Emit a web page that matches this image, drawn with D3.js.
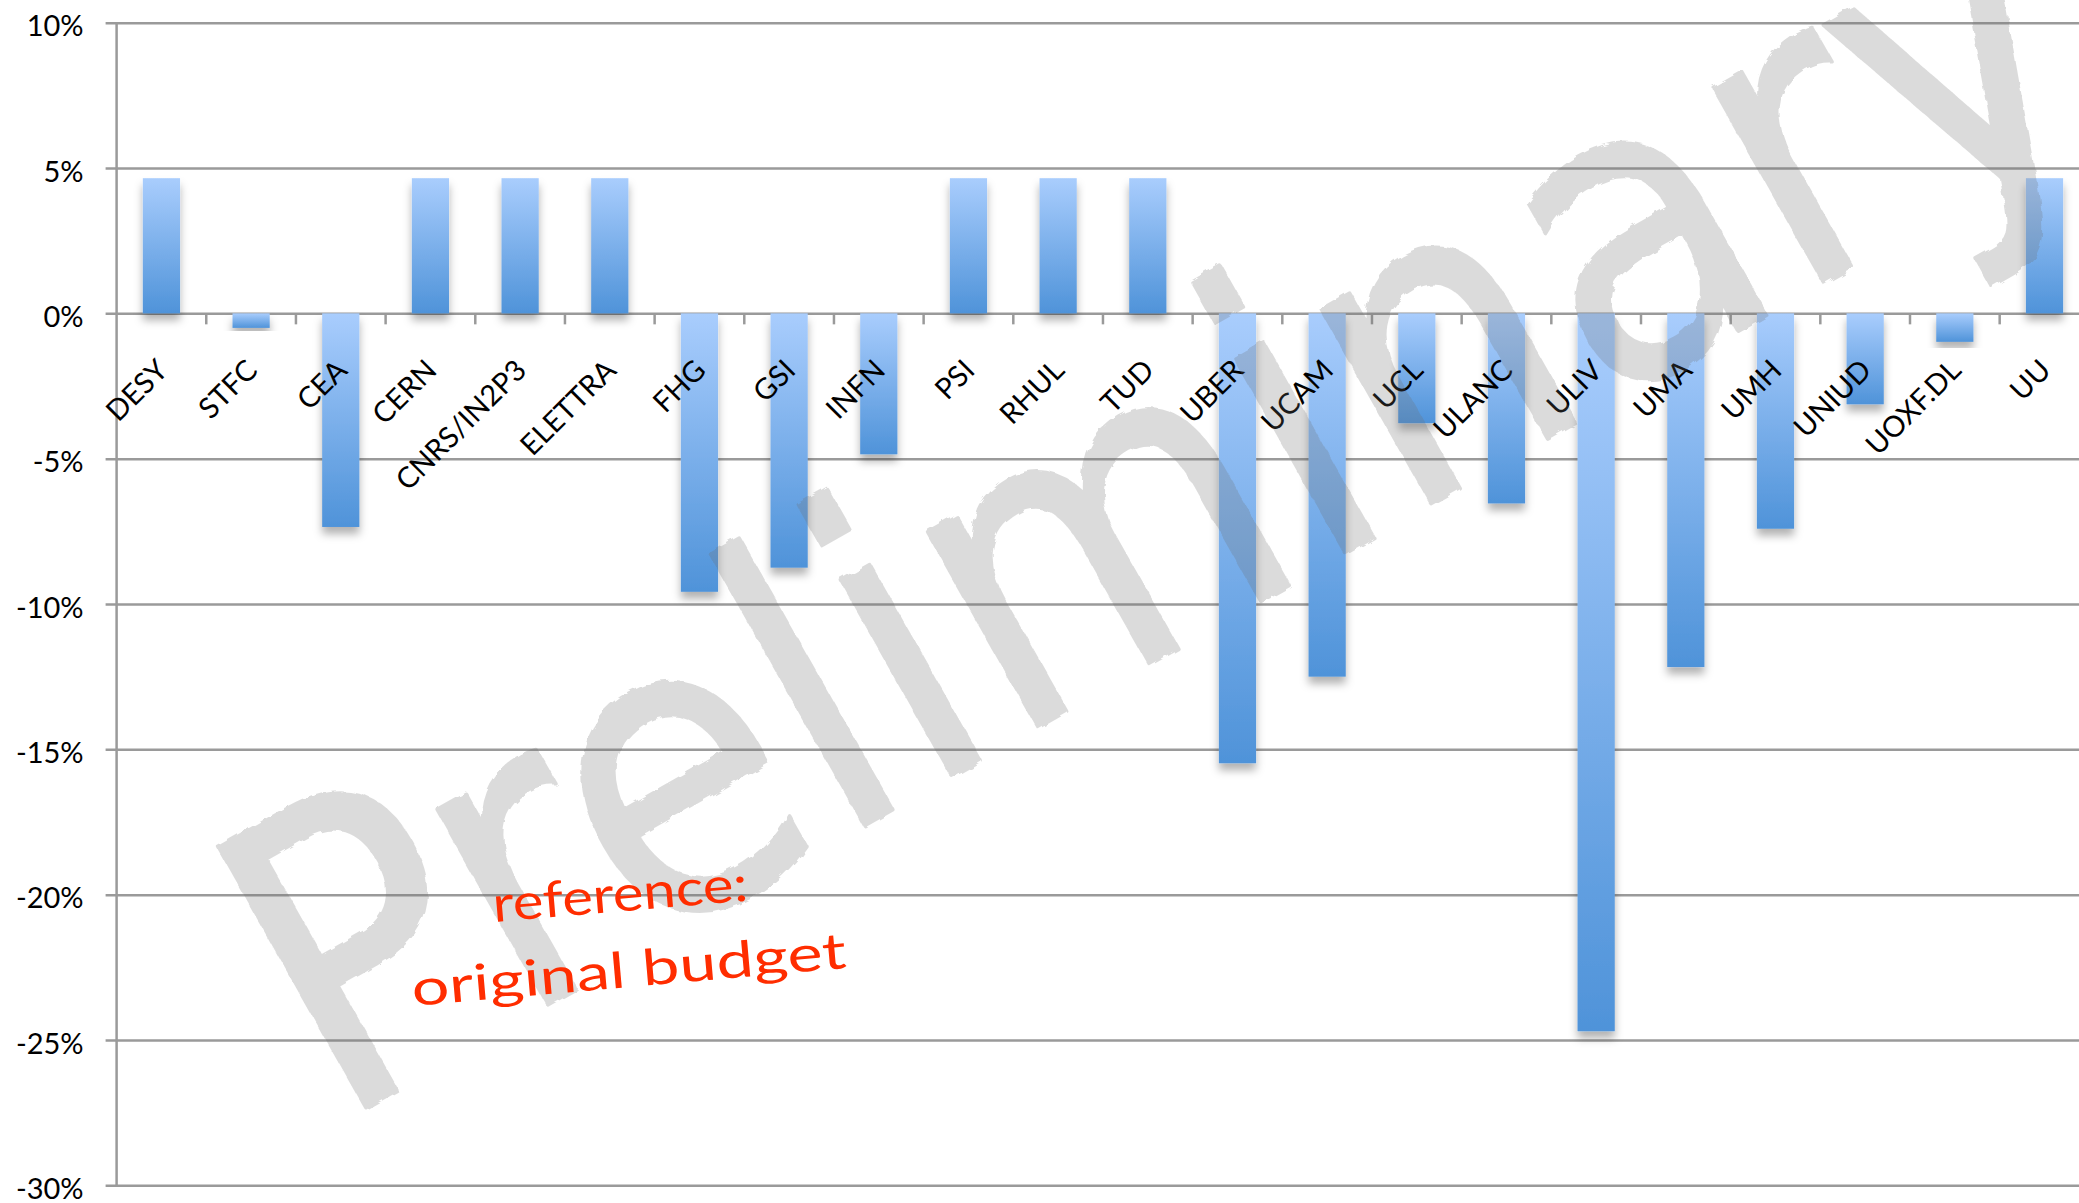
<!DOCTYPE html>
<html lang="en">
<head>
    <meta charset="UTF-8">
    <title>Budget deviation</title>
    <script src="https://d3js.org/d3.v7.min.js"></script>
    <style>
        body { margin: 0; background: #fff; }
        text { font-family: Lato, "Open Sans", sans-serif; }
    </style>
</head>
<body>
    <script>
        // deviation from original budget, in %
        var categories = ["DESY", "STFC", "CEA", "CERN", "CNRS/IN2P3", "ELETTRA", "FHG", "GSI", "INFN", "PSI", "RHUL",
            "TUD", "UBER", "UCAM", "UCL", "ULANC", "ULIV", "UMA", "UMH", "UNIUD", "UOXF.DL", "UU"];
        var values = [4.65, -0.5, -7.35, 4.65, 4.65, 4.65, -9.58, -8.75, -4.85, 4.65, 4.65,
            4.65, -15.48, -12.5, -3.78, -6.54, -24.7, -12.17, -7.41, -3.13, -0.98, 4.65];
        var yTicks = [10, 5, 0, -5, -10, -15, -20, -25, -30];
        var yTickLabels = ["10%", "5%", "0%", "-5%", "-10%", "-15%", "-20%", "-25%", "-30%"];

        var width = 2079, height = 1203;
        var left = 116.6, step = 89.67;
        var right = left + categories.length * step;

        var svg = d3.select("body")
            .append("svg")
            .attr("width", width)
            .attr("height", height);

        var defs = svg.append("defs");
        var grad = defs.append("linearGradient")
            .attr("id", "barGrad")
            .attr("x1", 0).attr("y1", 0).attr("x2", 0).attr("y2", 1);
        grad.append("stop").attr("offset", "0%").attr("stop-color", "#a9cdfd");
        grad.append("stop").attr("offset", "100%").attr("stop-color", "#4f93d9");

        var shadow = defs.append("filter")
            .attr("id", "shadow")
            .attr("x", "-50%").attr("y", "-20%").attr("width", "200%").attr("height", "140%");
        shadow.append("feDropShadow")
            .attr("dx", 0).attr("dy", 7)
            .attr("stdDeviation", 4)
            .attr("flood-color", "#000")
            .attr("flood-opacity", 0.3);

        var rough = defs.append("filter")
            .attr("id", "rough")
            .attr("x", "-10%").attr("y", "-10%").attr("width", "120%").attr("height", "120%");
        rough.append("feTurbulence")
            .attr("type", "fractalNoise")
            .attr("baseFrequency", 0.08)
            .attr("numOctaves", 2)
            .attr("result", "noise");
        rough.append("feDisplacementMap")
            .attr("in", "SourceGraphic")
            .attr("in2", "noise")
            .attr("scale", 7);

        var x = d3.scaleBand()
            .domain(categories)
            .range([left, right])
            .paddingInner(0.585)
            .paddingOuter(0.2925);

        var y = d3.scaleLinear()
            .domain([10, -30])
            .range([22.7, 1185.3]);

        // gridlines + y labels
        var yAxis = svg.append("g")
            .attr("transform", "translate(" + left + ",0)")
            .call(d3.axisLeft(y)
                .tickValues(yTicks)
                .tickSize(-(right - left))
                .tickPadding(33)
                .tickFormat(function(d, i) { return yTickLabels[i]; }));
        yAxis.select(".domain").remove();
        yAxis.selectAll(".tick line")
            .attr("x1", -11)
            .attr("stroke", "#9a9a9a")
            .attr("stroke-width", 2.5);
        yAxis.selectAll(".tick text")
            .attr("dy", "0.45em")
            .attr("fill", "#000")
            .style("font-size", "29px");

        svg.append("line")
            .attr("x1", left).attr("x2", left)
            .attr("y1", y(10)).attr("y2", y(-30))
            .attr("stroke", "#9a9a9a")
            .attr("stroke-width", 2.5);

        // category ticks under the zero line
        var gap = (x.step() - x.bandwidth()) / 2;
        svg.append("g").selectAll("line")
            .data(categories.slice(1))
            .join("line")
            .attr("x1", function(d) { return x(d) - gap; })
            .attr("x2", function(d) { return x(d) - gap; })
            .attr("y1", y(0))
            .attr("y2", y(0) + 11)
            .attr("stroke", "#9a9a9a")
            .attr("stroke-width", 2.5);

        // bars
        svg.append("g").selectAll("rect")
            .data(values)
            .join("rect")
            .attr("x", function(d, i) { return x(categories[i]); })
            .attr("y", function(d) { return y(Math.max(0, d)); })
            .attr("width", x.bandwidth())
            .attr("height", function(d) { return Math.abs(y(d) - y(0)); })
            .attr("fill", "url(#barGrad)")
            .attr("filter", "url(#shadow)");

        // category labels
        svg.append("g").selectAll("text")
            .data(categories)
            .join("text")
            .attr("transform", function(d) {
                return "translate(" + (x(d) + x.bandwidth() / 2 + 8) + ",372) rotate(-45)";
            })
            .attr("text-anchor", "end")
            .style("font-size", "29px")
            .text(function(d) { return d; });

        // watermark
        var wm = svg.append("g")
            .attr("opacity", 0.24)
            .attr("filter", "url(#rough)");
        wm.append("text")
            .attr("transform", "translate(335,1125) rotate(-29.5)")
            .attr("textLength", 2040)
            .attr("lengthAdjust", "spacingAndGlyphs")
            .attr("fill", "#6e6e6e")
            .attr("stroke", "#6e6e6e")
            .attr("stroke-width", 4)
            .attr("stroke-linejoin", "round")
            .style("font-family", "'DejaVu Sans', sans-serif")
            .style("font-size", "410px")
            .text("Preliminary");

        // annotation
        var note = svg.append("g")
            .attr("fill", "#ff2d00")
            .style("font-family", "'DejaVu Sans', sans-serif")
            .style("font-size", "50px");
        note.append("text")
            .attr("transform", "translate(494,922) rotate(-4.8)")
            .attr("textLength", 256)
            .attr("lengthAdjust", "spacingAndGlyphs")
            .text("reference:");
        note.append("text")
            .attr("transform", "translate(413,1006) rotate(-5)")
            .attr("textLength", 436)
            .attr("lengthAdjust", "spacingAndGlyphs")
            .text("original budget");
    </script>
</body>
</html>
